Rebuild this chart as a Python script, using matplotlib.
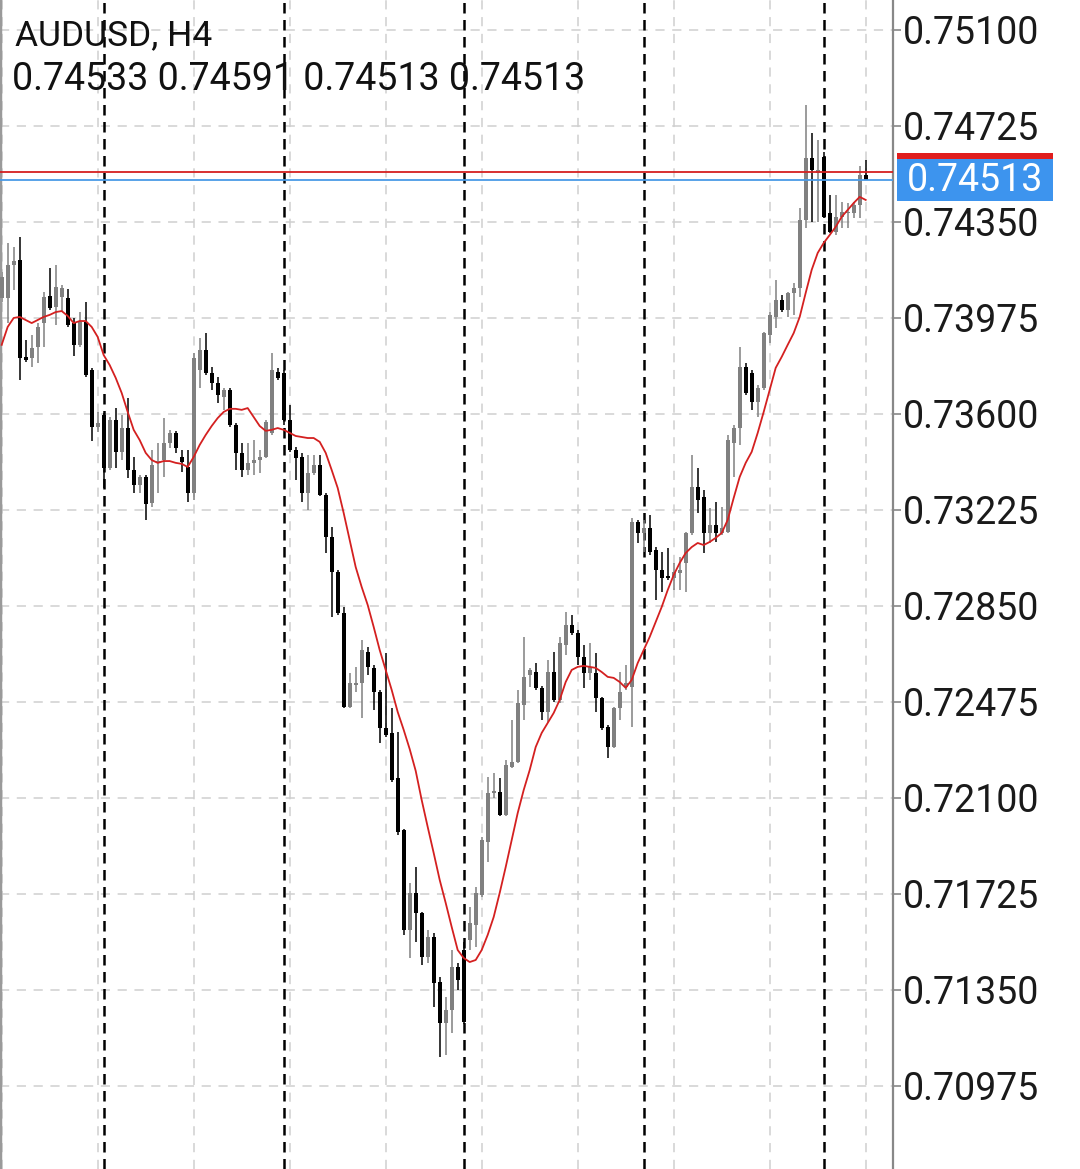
import matplotlib
matplotlib.use("Agg")
import matplotlib.pyplot as plt
import matplotlib.transforms as mtransforms
from matplotlib.patches import Rectangle

plt.rcParams['font.family'] = ['Roboto', 'DejaVu Sans']

symbol = "AUDUSD, H4"
# ціни в пунктах (5-й знак після коми), 145 свічок H4
opens = [74053, 74053, 74182, 74202, 73823, 73819, 73862, 73955, 74061, 74018,
         74057, 74053, 73955, 73870, 73959, 73772, 73549, 73596, 73389, 73577,
         73452, 73545, 73381, 73323, 73354, 73252, 73409, 73420, 73487, 73526,
         73432, 73393, 73291, 73772, 73850, 73760, 73721, 73666, 73694, 73557,
         73448, 73381, 73409, 73420, 73432, 73526, 73764, 73760, 73577, 73459,
         73432, 73291, 73370, 73401, 73284, 73120, 72983, 72823, 72455, 72541,
         72549, 72670, 72608, 72514, 72373, 72354, 72178, 71975, 71584, 71729,
         71651, 71479, 71557, 71381, 71221, 71272, 71440, 71506, 71545, 71604,
         71721, 71928, 72120, 72123, 72034, 72221, 72241, 72463, 72580, 72592,
         72530, 72436, 72592, 72483, 72698, 72776, 72745, 72651, 72588, 72588,
         72491, 72377, 72299, 72452, 72534, 72534, 73178, 73135, 73155, 73069,
         72991, 72967, 72959, 72979, 73018, 73135, 73315, 73276, 73135, 73166,
         73135, 73139, 73487, 73545, 73784, 73760, 73647, 73702, 73909, 73979,
         74045, 74006, 74073, 74092, 74358, 74600, 74541, 74604, 74385, 74311,
         74370, 74385, 74385, 74416, 74533]
highs = [74155, 74268, 74252, 74291, 73889, 73909, 73955, 74077, 74170, 74182,
         74104, 74088, 73975, 73998, 74037, 73780, 73608, 73604, 73588, 73623,
         73596, 73663, 73432, 73362, 73362, 73459, 73487, 73584, 73538, 73534,
         73459, 73459, 73838, 73897, 73916, 73784, 73745, 73702, 73702, 73565,
         73487, 73487, 73498, 73459, 73577, 73838, 73780, 73772, 73635, 73471,
         73448, 73440, 73440, 73440, 73291, 73159, 72991, 72846, 72588, 72612,
         72717, 72690, 72620, 72522, 72666, 72452, 72358, 71979, 71768, 71830,
         71655, 71584, 71573, 71401, 71323, 71506, 71456, 71538, 71674, 71752,
         71948, 72182, 72198, 72178, 72248, 72405, 72522, 72729, 72608, 72627,
         72538, 72639, 72670, 72729, 72827, 72815, 72756, 72698, 72706, 72666,
         72494, 72385, 72455, 72592, 72620, 73194, 73186, 73186, 73205, 73080,
         73061, 73077, 73018, 73041, 73139, 73440, 73389, 73303, 73233, 73256,
         73237, 73518, 73557, 73862, 73799, 73772, 73713, 73920, 73998, 74123,
         74065, 74077, 74112, 74405, 74807, 74698, 74670, 74623, 74456, 74456,
         74428, 74424, 74428, 74569, 74591]
lows = [74037, 73955, 74084, 73733, 73803, 73784, 73799, 73862, 74006, 73948,
        73998, 73940, 73827, 73862, 73745, 73495, 73530, 73311, 73381, 73389,
        73420, 73350, 73291, 73291, 73186, 73237, 73291, 73354, 73467, 73448,
        73373, 73256, 73264, 73702, 73752, 73694, 73643, 73616, 73549, 73381,
        73354, 73362, 73362, 73370, 73428, 73518, 73733, 73557, 73452, 73342,
        73256, 73225, 73362, 73280, 73057, 72807, 72815, 72452, 72452, 72514,
        72413, 72580, 72444, 72315, 72338, 72163, 71956, 71565, 71475, 71538,
        71448, 71456, 71284, 71088, 71096, 71182, 71350, 71217, 71506, 71518,
        71713, 71850, 72100, 72030, 72030, 72217, 72237, 72405, 72534, 72522,
        72405, 72397, 72475, 72471, 72659, 72737, 72620, 72530, 72561, 72436,
        72366, 72256, 72295, 72405, 72522, 72377, 73096, 73061, 73049, 72873,
        72905, 72952, 72912, 72912, 72905, 73127, 73213, 73057, 73096, 73100,
        73127, 73135, 73354, 73479, 73674, 73616, 73588, 73694, 73877, 73936,
        73998, 73979, 73987, 74057, 74327, 74350, 74350, 74366, 74307, 74299,
        74327, 74327, 74366, 74366, 74513]
closes = [74135, 74182, 74198, 73819, 73811, 73858, 73940, 74057, 74014, 74096,
          74092, 73948, 73870, 73959, 73752, 73549, 73565, 73389, 73577, 73452,
          73545, 73381, 73323, 73354, 73248, 73401, 73416, 73487, 73526, 73467,
          73413, 73291, 73819, 73850, 73760, 73721, 73674, 73694, 73557, 73448,
          73381, 73409, 73420, 73432, 73569, 73772, 73741, 73577, 73459, 73428,
          73291, 73370, 73401, 73284, 73120, 72983, 72823, 72455, 72549, 72549,
          72678, 72612, 72514, 72373, 72346, 72170, 71967, 71584, 71729, 71651,
          71479, 71557, 71377, 71221, 71272, 71440, 71389, 71225, 71612, 71729,
          71936, 72120, 72127, 72034, 72229, 72241, 72471, 72573, 72600, 72530,
          72436, 72592, 72483, 72706, 72776, 72745, 72651, 72588, 72612, 72491,
          72373, 72299, 72452, 72514, 72549, 73178, 73135, 73155, 73061, 72991,
          72959, 72959, 72983, 72991, 73135, 73315, 73264, 73135, 73166, 73135,
          73155, 73498, 73545, 73784, 73682, 73647, 73702, 73916, 73987, 74045,
          74006, 74073, 74092, 74358, 74600, 74553, 74553, 74370, 74311, 74370,
          74389, 74389, 74416, 74534, 74513]
# ковзна середня (червона лінія)
ma = [73870, 73940, 73975, 73979, 73967, 73955, 73967, 73979, 73987, 73998,
      74002, 73983, 73955, 73963, 73963, 73940, 73901, 73830, 73791, 73741,
      73682, 73608, 73538, 73498, 73448, 73420, 73409, 73416, 73416, 73409,
      73405, 73393, 73432, 73479, 73518, 73553, 73584, 73608, 73620, 73620,
      73616, 73623, 73588, 73553, 73534, 73538, 73545, 73538, 73526, 73514,
      73510, 73506, 73506, 73491, 73448, 73381, 73311, 73213, 73108, 73002,
      72924, 72854, 72768, 72678, 72600, 72522, 72436, 72366, 72291, 72206,
      72092, 71987, 71885, 71780, 71690, 71596, 71506, 71475, 71459, 71467,
      71506, 71565, 71635, 71729, 71830, 71936, 72041, 72131, 72209, 72299,
      72354, 72393, 72432, 72483, 72553, 72600, 72612, 72616, 72612, 72608,
      72592, 72573, 72569, 72553, 72530, 72561, 72627, 72678, 72729, 72788,
      72846, 72912, 72971, 73018, 73057, 73080, 73096, 73088, 73100, 73116,
      73135, 73186, 73272, 73354, 73409, 73452, 73526, 73608, 73694, 73780,
      73823, 73870, 73916, 73979, 74073, 74163, 74229, 74268, 74299, 74331,
      74370, 74397, 74424, 74448, 74436]
bid = 74513
ask = 74545
week_starts = [17, 47, 77, 107, 137]
grid_x = [0, 16, 32, 48, 64, 80, 96, 112, 128, 144]
price_ticks = [0.75100, 0.74725, 0.74350, 0.73975, 0.73600, 0.73225,
               0.72850, 0.72475, 0.72100, 0.71725, 0.71350, 0.70975]

k = 1e-5
o = [v * k for v in opens]
h = [v * k for v in highs]
l = [v * k for v in lows]
c = [v * k for v in closes]

W, H = 1080, 1169
fig = plt.figure(figsize=(W / 100, H / 100), dpi=100)
ax = fig.add_axes([0, 0, 893 / W, 1])
ax.set_xlim(-0.28, 148.55)
ax.set_ylim(0.706506, 0.75217)

# сітка
for p in price_ticks:
    ax.axhline(p, color='#cfcfcf', lw=1.1, dashes=(6, 5), zorder=0)
for gx in grid_x:
    ax.axvline(gx, color='#cfcfcf', lw=1.1, dashes=(6, 5), zorder=0)
for ws in week_starts:
    ax.axvline(ws, color='black', lw=1.8, dashes=(4.2, 2.6), zorder=1)

# свічки
for i in range(len(o)):
    col = '#808080' if c[i] >= o[i] else 'black'
    ax.vlines(i, l[i], h[i], color=col, lw=1.1, zorder=2)
    body = max(abs(c[i] - o[i]), 0.00004)
    ax.bar(i, body, bottom=min(o[i], c[i]), width=0.68, color=col, lw=0, zorder=3)

ax.plot(range(len(ma)), [v * k for v in ma], color='#d42020', lw=1.3, zorder=4)

# лінії bid / ask
ax.axhline(ask * k, color='#d42020', lw=1.3, zorder=5)
ax.axhline(bid * k, color='#4a9be6', lw=1.3, zorder=5)

# вісь цін справа
ax.yaxis.tick_right()
ax.set_yticks(price_ticks)
ax.set_yticklabels([f"{p:.5f}" for p in price_ticks])
ax.tick_params(axis='y', length=6, width=1.2, color='#888888', pad=1,
               labelsize=27, labelcolor='#1a1a1a')
ax.set_xticks([])
for s in ['top', 'bottom']:
    ax.spines[s].set_visible(False)
ax.spines['right'].set_color('#888888')
ax.spines['right'].set_linewidth(1.6)
ax.spines['left'].set_color('#9a9a9a')
ax.spines['left'].set_linewidth(2.5)

# мітка поточної ціни
tr = mtransforms.blended_transform_factory(fig.transFigure, ax.transData)
px = 1 / 25600
bx0, bw = 897 / W, 156 / W
fig.add_artist(Rectangle((bx0, bid * k - 21 * px), bw, 42 * px, transform=tr,
                         color='#3d94ee', lw=0, zorder=6))
fig.add_artist(Rectangle((bx0, bid * k + 21 * px), bw, 6 * px, transform=tr,
                         color='#e01e1e', lw=0, zorder=6))
fig.text(975 / W, bid * k, f"{bid * k:.5f}", transform=tr, color='white',
         fontsize=27, ha='center', va='center', zorder=7)

# заголовок
fig.text(15 / W, 1 - 36 / H, symbol, fontsize=25.5, va='center', color='#111111')
fig.text(12 / W, 1 - 80 / H,
         " ".join(f"{v * k:.5f}" for v in (opens[-1], highs[-1], lows[-1], closes[-1])),
         fontsize=27, va='center', color='#111111')

fig.savefig("out.png", dpi=100, facecolor='white')
